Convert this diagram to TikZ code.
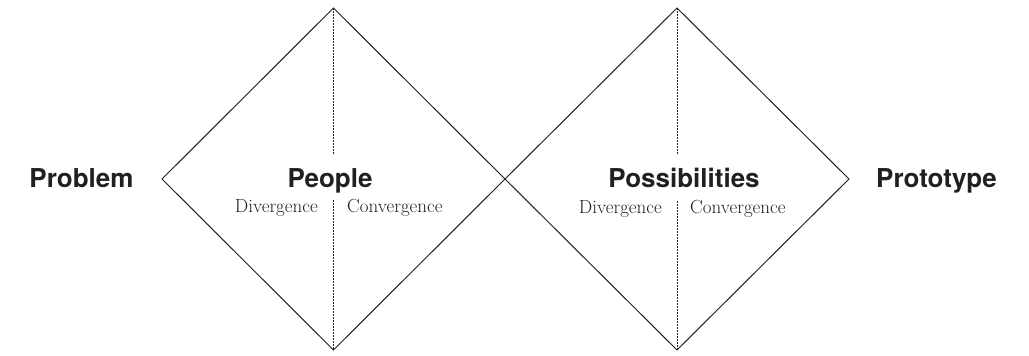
\documentclass[tikz,border=0pt]{standalone}
\usepackage{fontspec}
\newfontfamily\headfont{TeX Gyre Heros}
\definecolor{ink}{HTML}{231F20}

\tikzstyle{every node}=[inner sep=0pt, text=ink]
\tikzstyle{head}=[anchor=base, font=\headfont\bfseries\fontsize{26}{30}\selectfont]
\tikzstyle{subl}=[anchor=base east, font=\fontsize{19}{22}\selectfont]
\tikzstyle{subr}=[anchor=base west, font=\fontsize{19}{22}\selectfont]
\tikzstyle{split}=[draw=ink, line width=0.6pt, dash pattern=on 2pt off 1pt]

\begin{document}
\begin{tikzpicture}[x=1pt,y=-1pt]
    \useasboundingbox (0,0) rectangle (1029,356);
    % corners of the two diamonds
    \coordinate (l1) at (162,179);
    \coordinate (t1) at (333.5,8);
    \coordinate (b1) at (333.5,350);
    \coordinate (m) at (505,179);
    \coordinate (t2) at (677,8);
    \coordinate (b2) at (677,350);
    \coordinate (r2) at (849,179);
    % ends of the split lines
    \coordinate (u1) at (333.5,155);
    \coordinate (d1) at (333.5,200);
    \coordinate (u2) at (677,155);
    \coordinate (d2) at (677,201);

    \node[head] (prob) at (81.5,187) {Problem};
    \node[head] (people) at (330,187) {People};
    \node[head] (poss) at (684,187) {Possibilities};
    \node[head] (proto) at (936.5,187) {Prototype};
    \node[subl] (div1) at (318,212) {Divergence};
    \node[subr] (con1) at (347,212) {Convergence};
    \node[subl] (div2) at (662,213) {Divergence};
    \node[subr] (con2) at (690,213) {Convergence};

    \path[draw=ink,line width=1pt]
    (l1) -- (t1) -- (m) -- (b1) -- cycle
    (m) -- (t2) -- (r2) -- (b2) -- cycle
	;
    \path[split]
    (t1) -- (u1)
    (d1) -- (b1)
    (t2) -- (u2)
    (d2) -- (b2)
	;
  \end{tikzpicture}
\end{document}
